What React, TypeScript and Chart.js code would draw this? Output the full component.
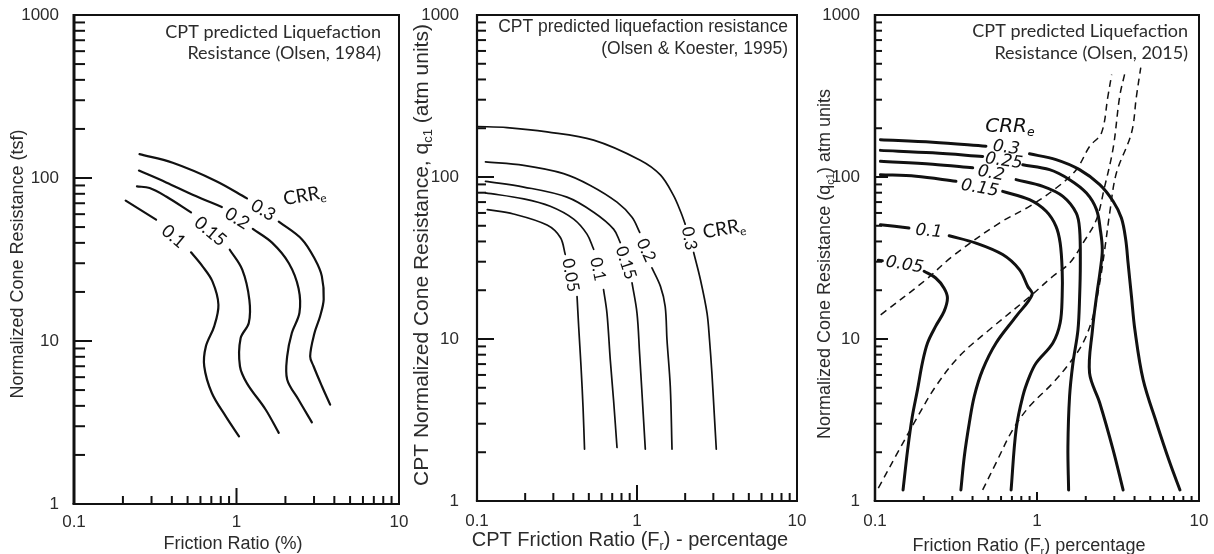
import React, { useEffect, useRef } from "react";
import { Chart, registerables } from "chart.js";

Chart.register(...registerables);

type Pt = [number, number];

// ---------------- Axis ticks ----------------
const xTickValues = [0.1, 0.2, 0.3, 0.4, 0.5, 0.6, 0.7, 0.8, 0.9, 1, 2, 3, 4, 5, 6, 7, 8, 9, 10];
const yTickValues = [1, 2, 3, 4, 5, 6, 7, 8, 9, 10, 20, 30, 40, 50, 60, 70, 80, 90, 100, 200, 300, 400, 500, 600, 700, 800, 900, 1000];
const xTickLabels = ["0.1", "1", "10"];
const yTickLabels = ["1", "10", "100", "1000"];
const xMinorTicks = [0.2, 0.3, 0.4, 0.5, 0.6, 0.7, 0.8, 0.9, 2, 3, 4, 5, 6, 7, 8, 9];
const xMajorTicks = [1];
const yMinorTicks = [2, 3, 4, 5, 6, 7, 8, 9, 20, 30, 40, 50, 60, 70, 80, 90, 200, 300, 400, 500, 600, 700, 800, 900];
const yMajorTicks = [10, 100];

// ---------------- Panel 1: Olsen (1984) ----------------
const o84_crr030_a: Pt[] = [[0.253, 140], [0.405, 124], [0.746, 96], [1.16, 75]];
const o84_crr030_b: Pt[] = [[1.82, 54], [2.53, 42], [3.05, 31.5], [3.35, 25], [3.44, 18], [3.27, 14.2], [3.02, 11.2], [2.84, 8.05], [2.98, 7], [3.35, 5.3], [3.77, 4.07]];
const o84_crr020_a: Pt[] = [[0.251, 111], [0.369, 94], [0.537, 79], [0.812, 66.4]];
const o84_crr020_b: Pt[] = [[1.26, 48.7], [1.66, 40], [2.1, 30], [2.41, 21], [2.44, 14.9], [2.19, 11.2], [2.05, 8.05], [2.05, 5.8], [2.41, 4.36], [2.91, 3.17]];
const o84_crr015_a: Pt[] = [[0.244, 88.8], [0.292, 86.8], [0.369, 77], [0.525, 61.5]];
const o84_crr015_b: Pt[] = [[0.909, 36.3], [1.085, 27.4], [1.2, 17.9], [1.19, 12.9], [1.06, 10.4], [1.05, 7], [1.16, 5.5], [1.51, 3.8], [1.82, 2.73]];
const o84_crr010_a: Pt[] = [[0.208, 72.6], [0.32, 55.5]];
const o84_crr010_b: Pt[] = [[0.525, 35], [0.618, 28.7], [0.711, 23.2], [0.774, 16.7], [0.729, 12.3], [0.648, 9.27], [0.633, 7], [0.705, 4.8], [0.859, 3.45], [1.036, 2.6]];

// ---------------- Panel 2: Olsen & Koester (1995) ----------------
const ok95_crr030_a: Pt[] = [[0.1, 205], [0.154, 202], [0.274, 190], [0.536, 169], [1.048, 127], [1.4, 103], [1.69, 77], [1.88, 60.6], [2.0, 51.2]];
const ok95_crr030_b: Pt[] = [[2.26, 34.2], [2.49, 23.3], [2.74, 14.45], [2.84, 9.86], [2.94, 6.12], [3.04, 3.45], [3.13, 2.09]];
const ok95_crr020_a: Pt[] = [[0.113, 124], [0.196, 118], [0.348, 105], [0.511, 88.7], [0.75, 69.9], [0.931, 56.4], [1.04, 45.5]];
const ok95_crr020_b: Pt[] = [[1.24, 27.5], [1.4, 21.2], [1.5, 15.9], [1.54, 9.86], [1.615, 5.05], [1.655, 2.09]];
const ok95_crr015_a: Pt[] = [[0.113, 93.9], [0.196, 86.7], [0.365, 75.1], [0.536, 60.6], [0.714, 47.7], [0.786, 39.4]];
const ok95_crr015_b: Pt[] = [[0.931, 22.2], [1.0, 14.45], [1.038, 8.15], [1.075, 4.59], [1.127, 2.09]];
const ok95_crr010_a: Pt[] = [[0.113, 79.9], [0.196, 73.3], [0.287, 66], [0.402, 55], [0.487, 44.4], [0.536, 35.8]];
const ok95_crr010_b: Pt[] = [[0.618, 20.2], [0.649, 14.45], [0.681, 7.4], [0.714, 4.17], [0.75, 2.14]];
const ok95_crr005_a: Pt[] = [[0.116, 62.9], [0.169, 59.1], [0.274, 50.5], [0.332, 42.3], [0.356, 33.3]];
const ok95_crr005_b: Pt[] = [[0.422, 18.3], [0.432, 11.9], [0.447, 6.72], [0.46, 3.79], [0.47, 2.09]];

// ---------------- Panel 3: Olsen (2015) ----------------
const o15_crr030_a: Pt[] = [[0.108, 170], [0.227, 164], [0.484, 155]];
const o15_crr030_b: Pt[] = [[0.899, 139], [1.31, 128], [1.83, 111], [2.44, 89.7], [2.95, 70.8], [3.32, 55.8], [3.53, 41], [3.65, 29.4], [3.83, 18.3], [4.02, 11.4], [4.52, 5.61], [5.47, 3.03], [6.61, 1.72], [7.63, 1.17]];
const o15_crr025_a: Pt[] = [[0.108, 146], [0.227, 141], [0.462, 134]];
const o15_crr025_b: Pt[] = [[0.817, 119], [1.195, 111], [1.59, 96.3], [2.02, 79.6], [2.33, 62.9], [2.46, 47.3], [2.53, 35.6], [2.46, 26.8], [2.33, 18.3], [2.2, 11.4], [2.11, 6.17], [2.44, 4.03], [2.95, 2.07], [3.4, 1.17]];
const o15_crr020_a: Pt[] = [[0.108, 125], [0.227, 120], [0.401, 114]];
const o15_crr020_b: Pt[] = [[0.743, 96.3], [1.087, 87.6], [1.445, 76], [1.748, 59.9], [1.833, 47.3], [1.851, 29.4], [1.833, 18.3], [1.79, 11.4], [1.667, 7.11], [1.589, 4.43], [1.552, 2.17], [1.567, 1.17]];
const o15_crr015_a: Pt[] = [[0.108, 103.4], [0.179, 101], [0.316, 94]];
const o15_crr015_b: Pt[] = [[0.614, 81.5], [0.899, 72.5], [1.14, 61.4], [1.31, 49.6], [1.39, 39.1], [1.43, 26.8], [1.43, 18.3], [1.39, 12.6], [1.253, 9.45], [0.988, 7.11], [0.899, 5.88], [0.817, 4.43], [0.743, 2.76], [0.692, 1.17]];
const o15_crr010_a: Pt[] = [[0.108, 50.8], [0.162, 48.4]];
const o15_crr010_b: Pt[] = [[0.287, 43.4], [0.42, 39.1], [0.614, 33.2], [0.779, 26.8], [0.877, 21.1], [0.933, 18.8], [0.743, 13.8], [0.559, 9.45], [0.462, 6.47], [0.41, 4.43], [0.382, 3.03], [0.356, 1.89], [0.339, 1.17]];
const o15_crr005_a: Pt[] = [[0.1048, 30.6], [0.111, 30.4]];
const o15_crr005_b: Pt[] = [[0.201, 26.2], [0.237, 23.8], [0.267, 20.6], [0.28, 17.9], [0.267, 14.8], [0.237, 12], [0.211, 9.45], [0.196, 7.11], [0.183, 4.87], [0.17, 3.33], [0.159, 2.07], [0.149, 1.17]];
const o15_dash_a: Pt[] = [[0.1084, 14.1], [0.206, 23.2], [0.301, 32.4], [0.586, 52], [0.899, 65.9], [1.314, 85.5], [1.748, 111], [2.114, 154.6], [2.5, 187], [2.74, 315], [2.89, 428]];
const o15_dash_b: Pt[] = [[0.1048, 1.2], [0.141, 2.07], [0.179, 3.18], [0.237, 5.1], [0.331, 7.82], [0.508, 11.4], [0.933, 18.8], [1.253, 24.4], [1.589, 29.4], [1.922, 39.1], [2.325, 54.5], [2.6, 85], [2.95, 150], [3.24, 315], [3.48, 434]];
const o15_dash_c: Pt[] = [[0.462, 1.17], [0.559, 1.72], [0.709, 2.76], [0.899, 3.84], [1.253, 5.35], [1.589, 7.11], [1.922, 9.45], [2.217, 13.8], [2.438, 22.2], [2.618, 35.6], [2.81, 59.9], [3.09, 105.8], [3.83, 187], [4.11, 315], [4.37, 473]];

// ---------------- Types & helpers ----------------
type Run = { t: string; sub?: boolean };
type FontSpec = { family: string; size: number; style?: string };
type Series = { pts: Pt[]; dashed?: boolean };
type Label = { runs: Run[]; x: number; y: number; angle: number; font?: FontSpec };
type Panel = {
  canvasLeft: number;
  canvasWidth: number;
  area: { left: number; right: number; top: number; bottom: number };
  series: Series[];
  lineWidth: number;
  dashWidth: number;
  labels: Label[];
  labelFont: FontSpec;
  heading: { lines: string[]; right: number; ys: number[]; font: FontSpec };
  xTitle: { runs: Run[]; x: number; y: number; font: FontSpec };
  yTitle: { runs: Run[]; x: number; y: number; font: FontSpec };
  xTickPad: number;
  yTickPad: number;
  tick: { yMinor: number; yMajor: number; xMinor: number; xMajor: number; width: number };
  frame: { left: number; bottom: number; other: number };
};

const INK = "#111111";
const TEXT = "#2b2b2b";
const ARIAL = "'Liberation Sans', Arial, sans-serif";
const CALIBRI = "Lato, 'Open Sans', sans-serif";
const VERDANA = "'DejaVu Sans', Verdana, sans-serif";

function drawRuns(ctx: CanvasRenderingContext2D, runs: Run[], x: number, y: number, font: FontSpec, angleDeg: number, align: "left" | "center" | "right", color: string) {
  ctx.save();
  ctx.translate(x, y);
  ctx.rotate((angleDeg * Math.PI) / 180);
  const subSize = font.size * 0.62;
  const f = (s: number) => `${font.style ?? "normal"} ${s}px ${font.family}`;
  const widths = runs.map((r) => {
    ctx.font = f(r.sub ? subSize : font.size);
    return ctx.measureText(r.t).width;
  });
  const total = widths.reduce((a, b) => a + b, 0);
  let cx = align === "center" ? -total / 2 : align === "right" ? -total : 0;
  ctx.fillStyle = color;
  ctx.textBaseline = "middle";
  ctx.textAlign = "left";
  runs.forEach((r, i) => {
    ctx.font = f(r.sub ? subSize : font.size);
    ctx.fillText(r.t, cx, r.sub ? font.size * 0.32 : 0);
    cx += widths[i];
  });
  ctx.restore();
}

const crr = (): Run[] => [{ t: "CRR" }, { t: "e", sub: true }];

const PANELS: Panel[] = [
  {
    canvasLeft: 0,
    canvasWidth: 420,
    area: { left: 74, right: 399, top: 15, bottom: 504 },
    series: [
      { pts: o84_crr030_a }, { pts: o84_crr030_b },
      { pts: o84_crr020_a }, { pts: o84_crr020_b },
      { pts: o84_crr015_a }, { pts: o84_crr015_b },
      { pts: o84_crr010_a }, { pts: o84_crr010_b },
    ],
    lineWidth: 2.2,
    dashWidth: 1.5,
    labelFont: { family: CALIBRI, size: 18 },
    labels: [
      { runs: [{ t: "0.3" }], x: 1.46, y: 63.5, angle: 31 },
      { runs: [{ t: "0.2" }], x: 1.01, y: 56.5, angle: 32 },
      { runs: [{ t: "0.15" }], x: 0.69, y: 47, angle: 40 },
      { runs: [{ t: "0.1" }], x: 0.41, y: 43.8, angle: 40 },
      { runs: crr(), x: 2.62, y: 78, angle: -10, font: { family: CALIBRI, size: 19 } },
    ],
    heading: { lines: ["CPT predicted Liquefaction", "Resistance (Olsen, 1984)"], right: 381, ys: [31.7, 53.3], font: { family: CALIBRI, size: 18 } },
    xTitle: { runs: [{ t: "Friction Ratio (%)" }], x: 233, y: 544, font: { family: ARIAL, size: 18 } },
    yTitle: { runs: [{ t: "Normalized Cone Resistance (tsf)" }], x: 18.5, y: 264, font: { family: ARIAL, size: 18 } },
    xTickPad: 0,
    yTickPad: 7,
    tick: { yMinor: 11, yMajor: 18, xMinor: 8, xMajor: 16, width: 2 },
    frame: { left: 3, bottom: 2, other: 2 },
  },
  {
    canvasLeft: 404,
    canvasWidth: 420,
    area: { left: 477, right: 797, top: 15, bottom: 501 },
    series: [
      { pts: ok95_crr030_a }, { pts: ok95_crr030_b },
      { pts: ok95_crr020_a }, { pts: ok95_crr020_b },
      { pts: ok95_crr015_a }, { pts: ok95_crr015_b },
      { pts: ok95_crr010_a }, { pts: ok95_crr010_b },
      { pts: ok95_crr005_a }, { pts: ok95_crr005_b },
    ],
    lineWidth: 1.7,
    dashWidth: 1.5,
    labelFont: { family: CALIBRI, size: 17 },
    labels: [
      { runs: [{ t: "0.05" }], x: 0.385, y: 24.8, angle: 80 },
      { runs: [{ t: "0.1" }], x: 0.57, y: 27, angle: 78 },
      { runs: [{ t: "0.15" }], x: 0.853, y: 29.5, angle: 72 },
      { runs: [{ t: "0.2" }], x: 1.14, y: 35.3, angle: 66 },
      { runs: [{ t: "0.3" }], x: 2.12, y: 41.8, angle: 80 },
      { runs: crr(), x: 3.5, y: 48, angle: -10, font: { family: CALIBRI, size: 19 } },
    ],
    heading: { lines: ["CPT predicted liquefaction resistance", "(Olsen & Koester, 1995)"], right: 788, ys: [27.3, 49.3], font: { family: ARIAL, size: 17.5 } },
    xTitle: { runs: [{ t: "CPT Friction Ratio (F" }, { t: "r", sub: true }, { t: ") - percentage" }], x: 630, y: 540.5, font: { family: ARIAL, size: 20 } },
    yTitle: { runs: [{ t: "CPT Normalized Cone Resistance, q" }, { t: "c1", sub: true }, { t: " (atm units)" }], x: 422, y: 255, font: { family: ARIAL, size: 21 } },
    xTickPad: 2,
    yTickPad: 10,
    tick: { yMinor: 9, yMajor: 17, xMinor: 8, xMajor: 16, width: 2 },
    frame: { left: 2.2, bottom: 2, other: 2 },
  },
  {
    canvasLeft: 808,
    canvasWidth: 406,
    area: { left: 875, right: 1199, top: 15, bottom: 501 },
    series: [
      { pts: o15_dash_a, dashed: true }, { pts: o15_dash_b, dashed: true }, { pts: o15_dash_c, dashed: true },
      { pts: o15_crr030_a }, { pts: o15_crr030_b },
      { pts: o15_crr025_a }, { pts: o15_crr025_b },
      { pts: o15_crr020_a }, { pts: o15_crr020_b },
      { pts: o15_crr015_a }, { pts: o15_crr015_b },
      { pts: o15_crr010_a }, { pts: o15_crr010_b },
      { pts: o15_crr005_a }, { pts: o15_crr005_b },
    ],
    lineWidth: 3,
    dashWidth: 1.5,
    labelFont: { family: VERDANA, size: 17, style: "oblique" },
    labels: [
      { runs: [{ t: "0.3" }], x: 0.645, y: 151, angle: 8 },
      { runs: [{ t: "0.25" }], x: 0.625, y: 125, angle: 8 },
      { runs: [{ t: "0.2" }], x: 0.52, y: 105, angle: 10 },
      { runs: [{ t: "0.15" }], x: 0.443, y: 85, angle: 10 },
      { runs: [{ t: "0.1" }], x: 0.215, y: 46, angle: 5 },
      { runs: [{ t: "0.05" }], x: 0.152, y: 28.6, angle: 10 },
      { runs: crr(), x: 0.68, y: 205, angle: 0, font: { family: VERDANA, size: 20, style: "oblique" } },
    ],
    heading: { lines: ["CPT predicted Liquefaction", "Resistance (Olsen, 2015)"], right: 1188, ys: [30.7, 53.3], font: { family: CALIBRI, size: 18 } },
    xTitle: { runs: [{ t: "Friction Ratio (F" }, { t: "r", sub: true }, { t: ") percentage" }], x: 1029, y: 546.5, font: { family: ARIAL, size: 18 } },
    yTitle: { runs: [{ t: "Normalized Cone Resistance (q" }, { t: "c1", sub: true }, { t: ") atm units" }], x: 825, y: 264, font: { family: ARIAL, size: 18 } },
    xTickPad: 2,
    yTickPad: 7,
    tick: { yMinor: 7, yMajor: 13, xMinor: 5, xMajor: 9, width: 2 },
    frame: { left: 2.5, bottom: 2, other: 2 },
  },
];

function decorPlugin(p: Panel) {
  return {
    id: "panelDecor",
    afterDraw(chart: any) {
      const ctx: CanvasRenderingContext2D = chart.ctx;
      const a = chart.chartArea;
      const xs = chart.scales.x;
      const ys = chart.scales.y;
      const off = p.canvasLeft;
      ctx.save();
      ctx.strokeStyle = INK;
      ctx.lineCap = "butt";
      ctx.lineWidth = p.tick.width;
      const hline = (y: number, len: number) => {
        ctx.beginPath();
        ctx.moveTo(a.left, y);
        ctx.lineTo(a.left + len, y);
        ctx.stroke();
      };
      const vline = (x: number, len: number) => {
        ctx.beginPath();
        ctx.moveTo(x, a.bottom);
        ctx.lineTo(x, a.bottom - len);
        ctx.stroke();
      };
      yMinorTicks.forEach((v) => hline(ys.getPixelForValue(v), p.tick.yMinor));
      yMajorTicks.forEach((v) => hline(ys.getPixelForValue(v), p.tick.yMajor));
      xMinorTicks.forEach((v) => vline(xs.getPixelForValue(v), p.tick.xMinor));
      xMajorTicks.forEach((v) => vline(xs.getPixelForValue(v), p.tick.xMajor));
      // frame
      ctx.lineWidth = p.frame.other;
      ctx.beginPath();
      ctx.moveTo(a.left, a.top);
      ctx.lineTo(a.right, a.top);
      ctx.lineTo(a.right, a.bottom);
      ctx.stroke();
      ctx.lineWidth = p.frame.bottom;
      ctx.beginPath();
      ctx.moveTo(a.left - p.frame.left / 2, a.bottom);
      ctx.lineTo(a.right + p.frame.other / 2, a.bottom);
      ctx.stroke();
      ctx.lineWidth = p.frame.left;
      ctx.beginPath();
      ctx.moveTo(a.left, a.top - p.frame.other / 2);
      ctx.lineTo(a.left, a.bottom);
      ctx.stroke();
      // heading inside the plot
      p.heading.lines.forEach((line, i) => {
        drawRuns(ctx, [{ t: line }], p.heading.right - off, p.heading.ys[i], p.heading.font, 0, "right", TEXT);
      });
      // axis titles
      drawRuns(ctx, p.xTitle.runs, p.xTitle.x - off, p.xTitle.y, p.xTitle.font, 0, "center", TEXT);
      drawRuns(ctx, p.yTitle.runs, p.yTitle.x - off, p.yTitle.y, p.yTitle.font, -90, "center", TEXT);
      // contour labels
      p.labels.forEach((l) => {
        drawRuns(ctx, l.runs, xs.getPixelForValue(l.x), ys.getPixelForValue(l.y), l.font ?? p.labelFont, l.angle, "center", INK);
      });
      ctx.restore();
    },
  };
}

function buildChart(canvas: HTMLCanvasElement, p: Panel): Chart {
  const datasets = p.series.map((s) => ({
    data: s.pts.map(([x, y]) => ({ x, y })),
    showLine: true,
    pointRadius: 0,
    pointHoverRadius: 0,
    borderColor: INK,
    borderWidth: s.dashed ? p.dashWidth : p.lineWidth,
    borderDash: s.dashed ? [7, 5] : [],
    borderCapStyle: s.dashed ? ("butt" as const) : ("round" as const),
    borderJoinStyle: "round" as const,
    tension: 0.35,
    fill: false,
  }));
  const tickFont = { family: ARIAL, size: 17 };
  return new Chart(canvas, {
    type: "scatter",
    data: { datasets },
    options: {
      responsive: false,
      animation: false,
      devicePixelRatio: 1,
      events: [],
      layout: { padding: { left: 0, top: p.area.top, right: p.canvasLeft + p.canvasWidth - p.area.right, bottom: 0 } },
      plugins: { legend: { display: false }, tooltip: { enabled: false } },
      scales: {
        x: {
          type: "logarithmic",
          position: "bottom",
          min: 0.1,
          max: 10,
          grid: { display: false },
          border: { display: false },
          afterBuildTicks: (s: any) => {
            s.ticks = xTickValues.map((v) => ({ value: v }));
          },
          afterFit: (s: any) => {
            s.height = 554 - p.area.bottom;
            s.paddingLeft = 0;
            s.paddingRight = 0;
          },
          ticks: {
            autoSkip: false,
            maxRotation: 0,
            minRotation: 0,
            padding: p.xTickPad,
            color: TEXT,
            font: tickFont,
            callback: (v: any) => (xTickLabels.includes(String(v)) ? String(v) : ""),
          },
        },
        y: {
          type: "logarithmic",
          position: "left",
          min: 1,
          max: 1000,
          grid: { display: false },
          border: { display: false },
          afterBuildTicks: (s: any) => {
            s.ticks = yTickValues.map((v) => ({ value: v }));
          },
          afterFit: (s: any) => {
            s.width = p.area.left - p.canvasLeft;
            s.paddingTop = 0;
            s.paddingBottom = 0;
          },
          ticks: {
            autoSkip: false,
            padding: p.yTickPad,
            color: TEXT,
            font: tickFont,
            callback: (v: any) => (yTickLabels.includes(String(v)) ? String(v) : ""),
          },
        },
      },
    } as any,
    plugins: [decorPlugin(p)],
  });
}

export default function App() {
  const r0 = useRef<HTMLCanvasElement>(null);
  const r1 = useRef<HTMLCanvasElement>(null);
  const r2 = useRef<HTMLCanvasElement>(null);
  const refs = [r0, r1, r2];

  useEffect(() => {
    const charts = PANELS.map((p, i) => buildChart(refs[i].current as HTMLCanvasElement, p));
    return () => charts.forEach((c) => c.destroy());
  }, []);

  return (
    <div style={{ position: "absolute", left: 0, top: 0, width: 1214, height: 554, background: "#ffffff", overflow: "hidden" }}>
      {PANELS.map((p, i) => (
        <canvas
          key={i}
          ref={refs[i]}
          width={p.canvasWidth}
          height={554}
          style={{ position: "absolute", left: p.canvasLeft, top: 0, width: p.canvasWidth, height: 554 }}
        />
      ))}
    </div>
  );
}
